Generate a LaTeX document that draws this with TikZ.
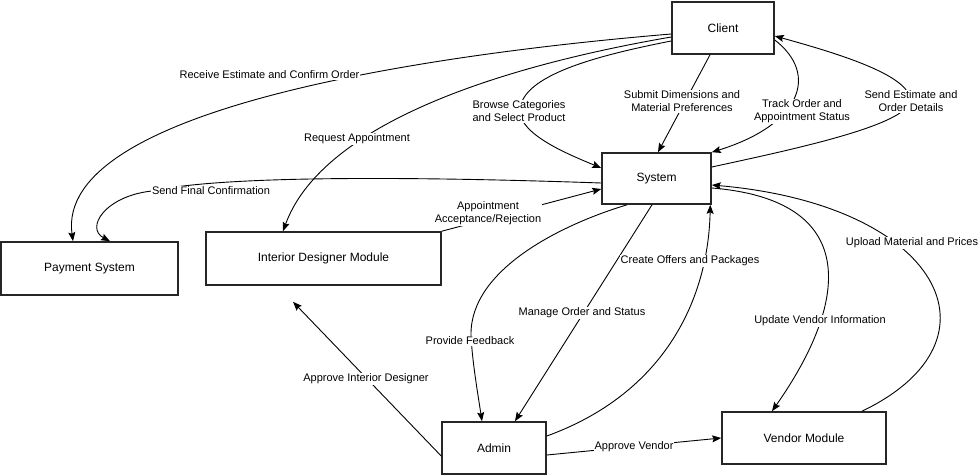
\documentclass[tikz,border=0pt]{standalone}
\usepackage{fontspec}
\setmainfont{Liberation Sans}
\usetikzlibrary{arrows.meta}
\begin{document}
\begin{tikzpicture}[x=1pt,y=-1pt,
  box/.style={draw=black!85, line width=1.6pt, inner sep=0pt, font=\fontsize{12}{14}\selectfont},
  flow/.style={draw=black, line width=0.9pt, -{Stealth[length=9pt,width=7pt,inset=1.5pt]}},
  lbl/.style={fill=white, inner sep=1pt, align=center, font=\fontsize{11}{13}\selectfont}]
\useasboundingbox (0,0) rectangle (979,476);

% boxes
\node[box, minimum width=102pt, minimum height=52pt] (client) at (723,28) {Client};
\node[box, minimum width=109pt, minimum height=51pt] (sys) at (656.5,178.5) {System};
\node[box, minimum width=177pt, minimum height=53pt] (pay) at (89.5,268.5) {Payment System};
\node[box, minimum width=235pt, minimum height=53pt] (idm) at (323.5,258.5) {Interior Designer Module};
\node[box, minimum width=104pt, minimum height=52pt] (admin) at (494,448) {Admin};
\node[box, minimum width=164pt, minimum height=52pt] (vendor) at (804,438) {Vendor Module};

\coordinate (idmtip) at ([xshift=-30.5pt,yshift=-16pt]idm.south);

% connectors
\draw[flow] ([yshift=-6pt]client.west) .. controls (420,55) and (55,110) .. ([xshift=-16.5pt]pay.north);
\draw[flow] ([yshift=-9pt]client.west) .. controls (480,70) and (320,130) .. ([xshift=-40.5pt]idm.north);
\draw[flow] ([yshift=-13pt]client.west) .. controls (600,55) and (520,75) .. (520,111)
            .. controls (520,135) and (570,155) .. ([yshift=10.5pt]sys.west);
\draw[flow] ([xshift=-13pt]client.south) -- ([xshift=1.5pt]sys.north);
\draw[flow] ([yshift=-12pt]client.east) .. controls (820,75) and (800,125) .. (sys.north east);
\draw[flow] ([yshift=11.5pt]sys.east) .. controls (790,150) and (910,125) .. (910,100)
            .. controls (910,75) and (836,53) .. ([yshift=-8pt]client.east);
\draw[flow] ([yshift=-4.5pt]sys.west) .. controls (400,176) and (220,176) .. (152,191)
            .. controls (105,196) and (85,228) .. ([xshift=20.5pt]pay.north);
\draw[flow] (idm.north east) -- ([yshift=-10.5pt]sys.west);
\draw[flow] ([xshift=-29.5pt]sys.south) .. controls (560,225) and (470,270) .. (471,335)
            .. controls (472,360) and (478,395) .. ([xshift=-12pt]admin.north);
\draw[flow] ([xshift=-4.5pt]sys.south) -- ([xshift=21pt]admin.north);
\draw[flow] ([yshift=12pt]admin.east) .. controls (660,395) and (708,305) .. ([xshift=-1.5pt]sys.south east);
\draw[flow] ([yshift=-9.5pt]sys.east) .. controls (860,200) and (850,300) .. ([xshift=-32pt]vendor.north);
\draw[flow] ([xshift=58pt]vendor.north) .. controls (1010,340) and (940,205) .. ([yshift=-6.5pt]sys.east);
\draw[flow] ([yshift=-8pt]admin.west) -- (idmtip);
\draw[flow] ([yshift=-7pt]admin.east) -- (vendor.west);

% labels
\node[lbl] (l1) at (269.5,75) {Receive Estimate and Confirm Order};
\node[lbl] (l2) at (357,139) {Request Appointment};
\node[lbl] (l3) at (519,111.5) {Browse Categories\\and Select Product};
\node[lbl] (l4) at (682,101.5) {Submit Dimensions and\\Material Preferences};
\node[lbl] (l5) at (802,111.5) {Track Order and\\Appointment Status};
\node[lbl] (l6) at (911,101.5) {Send Estimate and\\Order Details};
\node[lbl] (l7) at (211,191) {Send Final Confirmation};
\node[lbl] (l8) at (488,213) {Appointment\\Acceptance/Rejection};
\node[lbl] (l9) at (470,341) {Provide Feedback};
\node[lbl] (l10) at (582,313) {Manage Order and Status};
\node[lbl] (l11) at (690,261) {Create Offers and Packages};
\node[lbl] (l12) at (820,321) {Update Vendor Information};
\node[lbl] (l13) at (912,243) {Upload Material and Prices};
\node[lbl] (l14) at (366,379) {Approve Interior Designer};
\node[lbl] (l15) at (634,447) {Approve Vendor};
\end{tikzpicture}
\end{document}
